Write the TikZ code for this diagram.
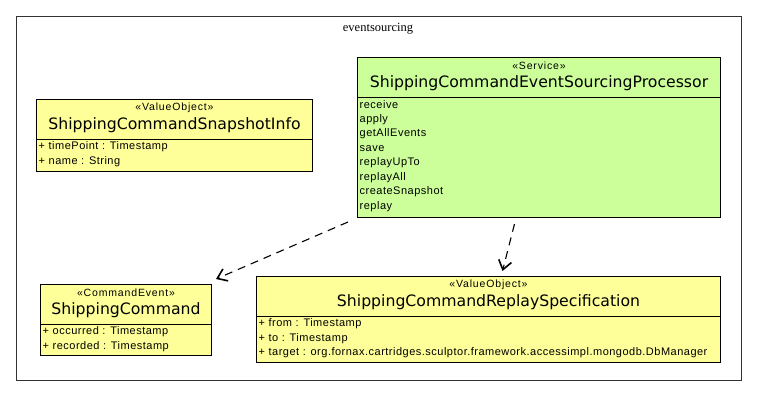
\documentclass[tikz,border=0pt]{standalone}
\usepackage{fontspec}
\setmainfont{Liberation Serif}
\newfontfamily\namefont{DejaVu Sans}
\newfontfamily\attrfont[LetterSpace=4.5]{Liberation Sans}
\newfontfamily\stereofont[LetterSpace=8]{Liberation Sans}
\usetikzlibrary{arrows.meta,calc}
\definecolor{boxgreen}{HTML}{CCFF99}
\definecolor{boxyellow}{HTML}{FFFF99}
\definecolor{framegray}{HTML}{333333}
\begin{document}
\begin{tikzpicture}[x=1pt,y=-1pt,
  umlbox/.style={draw=black, line width=1pt, inner sep=0pt, anchor=north west},
  stereo/.style={font=\stereofont\fontsize{10.5}{12}\selectfont, inner sep=0pt},
  cname/.style={font=\namefont\fontsize{15.7}{18}\selectfont, inner sep=0pt},
  attr/.style={font=\attrfont\fontsize{11}{13}\selectfont, inner sep=0pt, anchor=west},
  sepline/.style={draw=black, line width=1pt},
  dep/.style={draw=black, line width=1.1pt, dash pattern=on 8pt off 6pt, -{Straight Barb[length=9pt,width=13pt,line width=1.6pt]}},
]
\useasboundingbox (0,0) rectangle (757,407);
\node[draw=framegray, line width=1.6pt, minimum width=725pt, minimum height=364pt, anchor=north west, inner sep=0pt] (pkg) at (15.5,15.5) {};
\node[font=\fontsize{12.5}{14}\selectfont, inner sep=0pt] (pkgname) at (378,28.5) {eventsourcing};

% Service
\node[umlbox, fill=boxgreen, minimum width=363pt, minimum height=160pt] (svc) at (357,57) {};
\draw[sepline] ($(svc.north west)+(0,40)$) -- ($(svc.north east)+(0,40)$);
\node[stereo] (svcst) at ($(svc.north)+(0,9)$) {«Service»};
\node[cname] (svcname) at ($(svc.north)+(0,26)$) {ShippingCommandEventSourcingProcessor};
\foreach \t [count=\i from 0] in {receive,apply,getAllEvents,save,replayUpTo,replayAll,createSnapshot,replay}
  \node[attr] (svcop\i) at ($(svc.north west)+(2.5,48+14.5*\i)$) {\t};

% Snapshot info
\node[umlbox, fill=boxyellow, minimum width=276pt, minimum height=72pt] (snap) at (36,99) {};
\draw[sepline] ($(snap.north west)+(0,40)$) -- ($(snap.north east)+(0,40)$);
\node[stereo] (snapst) at ($(snap.north)+(0,9)$) {«ValueObject»};
\node[cname] (snapname) at ($(snap.north)+(0,26)$) {ShippingCommandSnapshotInfo};
\node[attr] (snapa1) at ($(snap.north west)+(2.5,48)$) {+ timePoint : Timestamp};
\node[attr] (snapa2) at ($(snap.north west)+(2.5,62.5)$) {+ name : String};

% ShippingCommand
\node[umlbox, fill=boxyellow, minimum width=171pt, minimum height=71pt] (cmd) at (40,284) {};
\draw[sepline] ($(cmd.north west)+(0,40)$) -- ($(cmd.north east)+(0,40)$);
\node[stereo] (cmdst) at ($(cmd.north)+(0,9)$) {«CommandEvent»};
\node[cname] (cmdname) at ($(cmd.north)+(0,26)$) {ShippingCommand};
\node[attr] (cmda1) at ($(cmd.north west)+(2.5,48)$) {+ occurred : Timestamp};
\node[attr] (cmda2) at ($(cmd.north west)+(2.5,62.5)$) {+ recorded : Timestamp};

% Replay specification
\node[umlbox, fill=boxyellow, minimum width=464pt, minimum height=86pt] (spec) at (256,276) {};
\draw[sepline] ($(spec.north west)+(0,40)$) -- ($(spec.north east)+(0,40)$);
\node[stereo] (specst) at ($(spec.north)+(0,9)$) {«ValueObject»};
\node[cname] (specname) at ($(spec.north)+(0,26)$) {ShippingCommandReplaySpecification};
\node[attr] (speca1) at ($(spec.north west)+(2.5,48)$) {+ from : Timestamp};
\node[attr] (speca2) at ($(spec.north west)+(2.5,62.5)$) {+ to : Timestamp};
\node[attr] (speca3) at ($(spec.north west)+(2.5,77)$) {+ target : org.fornax.cartridges.sculptor.framework.accessimpl.mongodb.DbManager};

% Dependencies
\draw[dep] ($(svc.south west)+(-9,4)$) -- ($(cmd.north east)+(4,-5)$);
\draw[dep] ($(svc.south)+(-24.5,6)$) -- ($(spec.north)+(14,-5)$);
\end{tikzpicture}
\end{document}
